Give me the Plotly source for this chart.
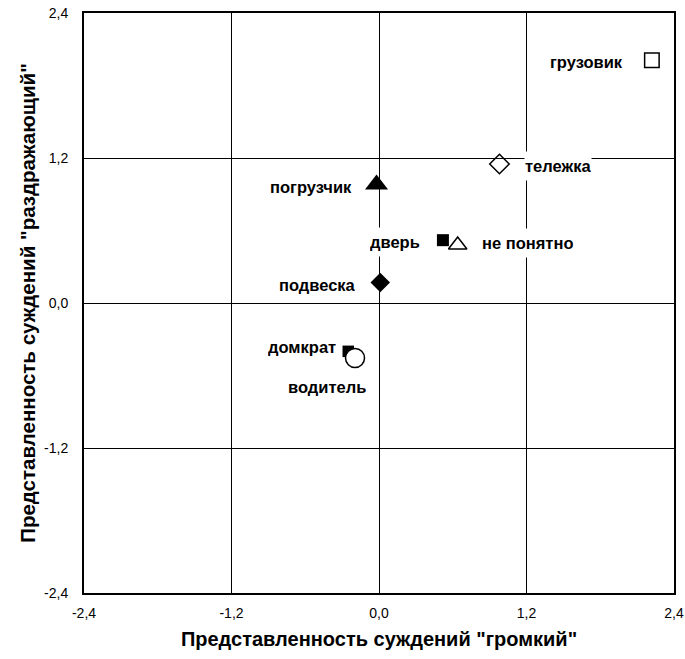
import plotly.graph_objects as go

# Objects positioned by two judgement scores
names = ["грузовик", "тележка", "погрузчик", "дверь", "не понятно",
         "подвеска", "домкрат", "водитель"]
loud = [2.22, 0.98, -0.02, 0.52, 0.64, 0.01, -0.25, -0.195]
irritating = [2.01, 1.15, 0.98, 0.52, 0.48, 0.17, -0.40, -0.455]

symbols = ["square-open", "diamond-open", "triangle-up", "square",
           "triangle-up-open", "diamond", "square", "circle"]
sizes = [14.5, 15, 20, 12, 16, 15, 11.5, 19]

# label offsets in pixels from each marker (x right, y up)
label_dx = [-65, 59, -66, -48, 70, -63, -46, -28]
label_dy = [-2, -2, -2, -2, 2, -3, 4, -29]

tick_values = [-2.4, -1.2, 0.0, 1.2, 2.4]
tick_labels = ["-2,4", "-1,2", "0,0", "1,2", "2,4"]
FONT = "Liberation Sans, Arial"

fig = go.Figure()
for i, n in enumerate(names):
    sym = symbols[i]
    if sym == "circle":
        marker = dict(symbol="circle", size=sizes[i], color="white",
                      line=dict(color="black", width=1.5))
    elif sym.endswith("-open"):
        marker = dict(symbol=sym, size=sizes[i], color="black",
                      line=dict(color="black", width=1.5))
    else:
        marker = dict(symbol=sym, size=sizes[i], color="black",
                      line=dict(color="black", width=0))
    fig.add_trace(go.Scatter(x=[loud[i]], y=[irritating[i]], mode="markers",
                             marker=marker, name=n, showlegend=False,
                             hoverinfo="text", text=[n]))
    fig.add_annotation(x=loud[i], y=irritating[i], xref="x", yref="y",
                       text=f"<b>{n}</b>", showarrow=False,
                       xshift=label_dx[i], yshift=label_dy[i],
                       bgcolor="white", height=28, borderpad=0,
                       font=dict(family=FONT, size=16.5, color="black"))

axis_common = dict(range=[-2.4, 2.4], tickvals=tick_values, ticktext=tick_labels,
                   showgrid=True, gridcolor="black", gridwidth=1,
                   zeroline=True, zerolinecolor="black", zerolinewidth=1,
                   showline=True, linecolor="black", linewidth=2, mirror=True,
                   ticks="", automargin=False,
                   tickfont=dict(family=FONT, size=14, color="black"))

fig.update_xaxes(**axis_common, ticklabelstandoff=6,
                 title=dict(text="<b>Представленность суждений \"громкий\"</b>",
                            font=dict(family=FONT, size=20, color="black"),
                            standoff=12))
fig.update_yaxes(**axis_common, ticklabelstandoff=11,
                 title=dict(text="<b>Представленность суждений \"раздражающий\"</b>",
                            font=dict(family=FONT, size=20.5, color="black"),
                            standoff=3))

fig.update_layout(width=685, height=659,
                  margin=dict(l=84, r=11, t=13, b=66),
                  paper_bgcolor="white", plot_bgcolor="white")

fig.write_html("out.html")
